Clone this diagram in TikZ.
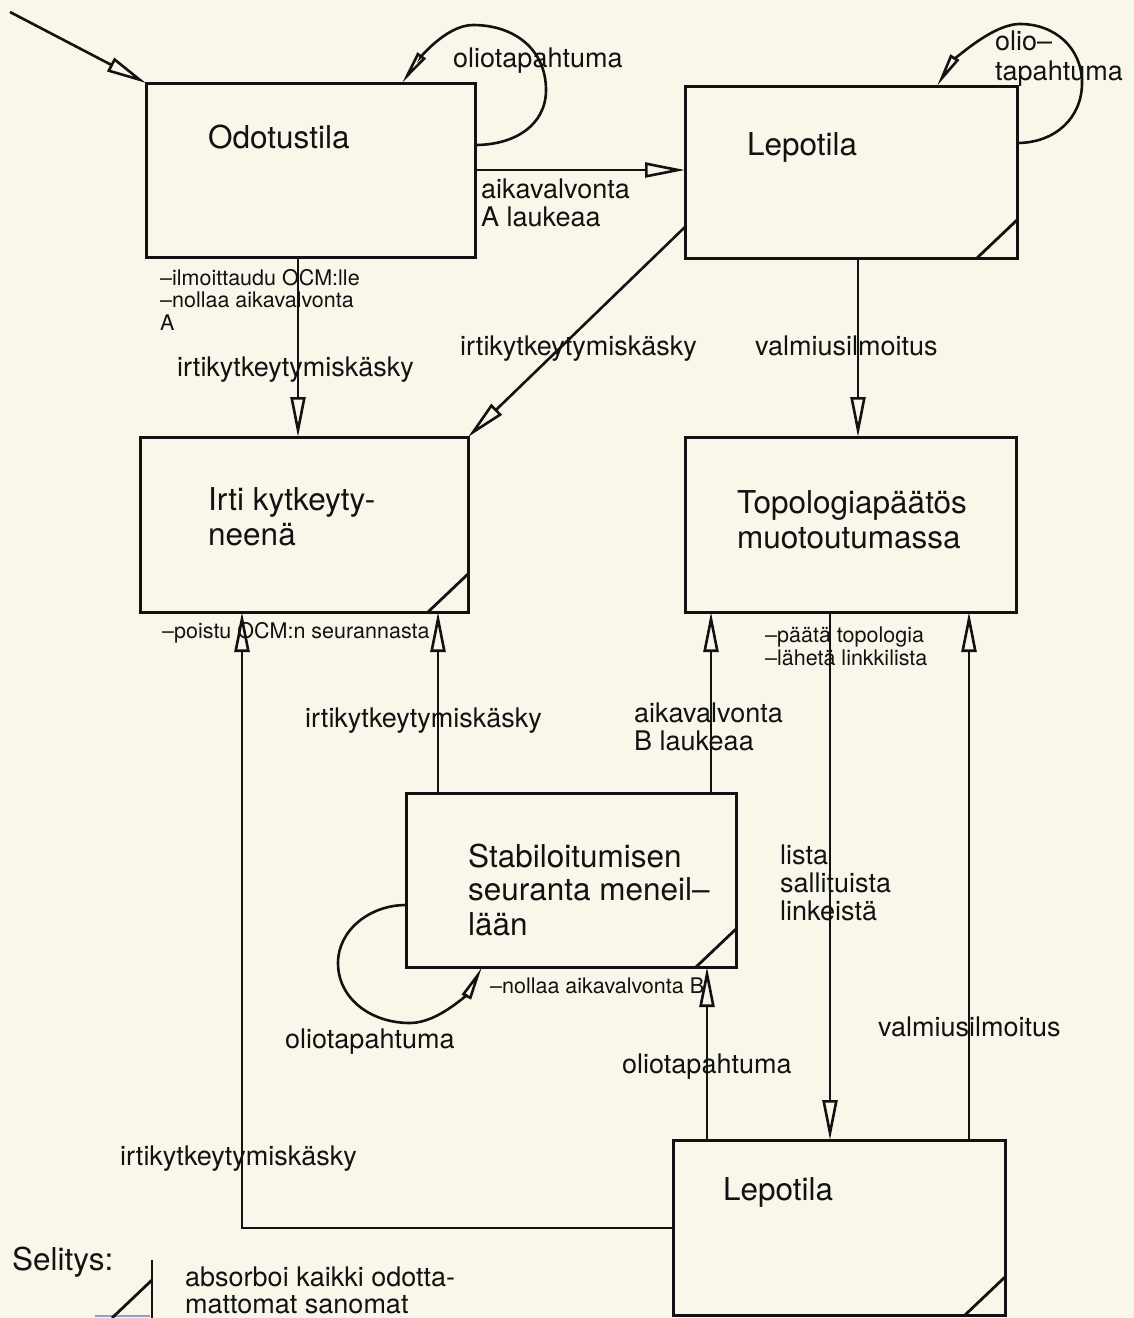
\documentclass[tikz,border=0pt]{standalone}
\usepackage{fontspec}
\setmainfont{TeX Gyre Heros}
\usetikzlibrary{arrows.meta}
\definecolor{paper}{RGB}{249,247,233}
\definecolor{ink}{RGB}{18,18,18}
\definecolor{faintblue}{RGB}{140,162,195}

\begin{document}
\begin{tikzpicture}[x=1pt,y=-1pt,
  statebox/.style={draw=ink, line width=3pt, rectangle, inner sep=0pt, outer sep=0pt, anchor=north west},
  flow/.style={draw=ink, line width=2.6pt, -{Triangle[open, length=40pt, width=15pt]}},
  loopflow/.style={draw=ink, line width=2.6pt, -{Triangle[open, length=34pt, width=10pt]}},
  absorb/.style={draw=ink, line width=2.8pt},
  statetext/.style={anchor=base west, inner sep=0pt, text=ink, font=\fontsize{31.5}{35}\selectfont},
  lbl/.style={anchor=base west, inner sep=0pt, text=ink, font=\fontsize{27}{28}\selectfont},
  note/.style={anchor=base west, inner sep=0pt, text=ink, font=\fontsize{21.5}{22}\selectfont},
]
\fill[paper] (0,0) rectangle (1134,1318);
\useasboundingbox (0,0) rectangle (1134,1318);

% ---- states ----
\node[statebox, minimum width=329pt, minimum height=174pt] (odo)   at (146,83)   {};
\node[statebox, minimum width=332pt, minimum height=172pt] (lep1)  at (685,86)   {};
\node[statebox, minimum width=328pt, minimum height=175pt] (irti)  at (140,437)  {};
\node[statebox, minimum width=331pt, minimum height=175pt] (topo)  at (685,437)  {};
\node[statebox, minimum width=330pt, minimum height=174pt] (stab)  at (406,793)  {};
\node[statebox, minimum width=332pt, minimum height=175pt] (lep2)  at (673,1140) {};

% corner marks: state absorbs all unexpected messages
\foreach \s in {lep1,irti,stab,lep2}
  \draw[absorb] ([xshift=-40pt]\s.south east) -- ([yshift=38pt]\s.south east);

% ---- state names ----
\node[statetext] (t_odo)   at (208,148)  {Odotustila};
\node[statetext] (t_lep1)  at (747,155)  {Lepotila};
\node[statetext] (t_irti1) at (208,510)  {Irti kytkeyty-};
\node[statetext] (t_irti2) at (208,545)  {neenä};
\node[statetext] (t_topo1) at (737,513)  {Topologiapäätös};
\node[statetext] (t_topo2) at (737,548)  {muotoutumassa};
\node[statetext] (t_stab1) at (468,867)  {Stabiloitumisen};
\node[statetext] (t_stab2) at (468,900)  {seuranta meneil–};
\node[statetext] (t_stab3) at (468,935)  {lään};
\node[statetext] (t_lep2)  at (723,1200) {Lepotila};

% ---- attachment columns and rows ----
\coordinate (entry) at (10,12);
\coordinate (yA) at (0,170);
\coordinate (yB) at (0,227);
\coordinate (yC) at (0,1228);
\coordinate (xA) at (298,0);
\coordinate (xB) at (858,0);
\coordinate (xC) at (438,0);
\coordinate (xD) at (711,0);
\coordinate (xE) at (830,0);
\coordinate (xF) at (969,0);
\coordinate (xG) at (707,0);
\coordinate (xH) at (242,0);
\coordinate (yL1) at (0,145);
\coordinate (xL1) at (402,0);
\coordinate (yL2) at (0,143);
\coordinate (xL2) at (937,0);
\coordinate (yL3) at (0,905);
\coordinate (xL3) at (482,0);

% ---- transitions ----
\draw[flow] (entry) -- (odo.north west);
\draw[flow] (odo.east |- yA) -- (lep1.west |- yA);
\draw[flow] (lep1.west |- yB) -- (irti.north east);
\draw[flow] (odo.south -| xA) -- (irti.north -| xA);
\draw[flow] (lep1.south -| xB) -- (topo.north -| xB);
\draw[flow] (stab.north -| xC) -- (irti.south -| xC);
\draw[flow] (stab.north -| xD) -- (topo.south -| xD);
\draw[flow] (topo.south -| xE) -- (lep2.north -| xE);
\draw[flow] (lep2.north -| xF) -- (topo.south -| xF);
\draw[flow] (lep2.north -| xG) -- (stab.south -| xG);
\draw[flow] (lep2.west |- yC) -| (irti.south -| xH);

% self transitions
\draw[loopflow] (odo.east |- yL1) .. controls (515,145) and (546,125) .. (546,90)
  .. controls (546,50) and (515,25) .. (473,25)
  .. controls (445,25) and (417,62) .. (odo.north -| xL1);
\draw[loopflow] (lep1.east |- yL2) .. controls (1055,143) and (1082,118) .. (1082,83)
  .. controls (1082,48) and (1055,24) .. (1020,24)
  .. controls (990,24) and (950,65) .. (lep1.north -| xL2);
\draw[loopflow] (stab.west |- yL3) .. controls (370,905) and (338,930) .. (338,963)
  .. controls (338,998) and (370,1023) .. (410,1023)
  .. controls (440,1023) and (470,990) .. (stab.south -| xL3);

% ---- transition labels ----
\node[lbl] (l_loop1)  at (453,67)  {oliotapahtuma};
\node[lbl] (l_loop2a) at (995,50)  {olio–};
\node[lbl] (l_loop2b) at (995,80)  {tapahtuma};
\node[lbl] (l_tA1)    at (481,198) {aikavalvonta};
\node[lbl] (l_tA2)    at (481,226) {A laukeaa};
\node[note] (n_odo1)  at (160,285) {–ilmoittaudu OCM:lle};
\node[note] (n_odo2)  at (160,307) {–nollaa aikavalvonta};
\node[note] (n_odo3)  at (160,330) {A};
\node[lbl] (l_disc1)  at (177,376) {irtikytkeytymiskäsky};
\node[lbl] (l_disc2)  at (460,355) {irtikytkeytymiskäsky};
\node[lbl] (l_ready1) at (755,355) {valmiusilmoitus};
\node[note] (n_irti)  at (162,638) {–poistu OCM:n seurannasta};
\node[note] (n_topo1) at (765,642) {–päätä topologia};
\node[note] (n_topo2) at (765,665) {–lähetä linkkilista};
\node[lbl] (l_disc3)  at (305,727) {irtikytkeytymiskäsky};
\node[lbl] (l_tB1)    at (634,722) {aikavalvonta};
\node[lbl] (l_tB2)    at (634,750) {B laukeaa};
\node[lbl] (l_list1)  at (780,864) {lista};
\node[lbl] (l_list2)  at (780,892) {sallituista};
\node[lbl] (l_list3)  at (780,920) {linkeistä};
\node[note] (n_stab)  at (490,993) {–nollaa aikavalvonta B};
\node[lbl] (l_loop3)  at (285,1048) {oliotapahtuma};
\node[lbl] (l_ready2) at (878,1036) {valmiusilmoitus};
\node[lbl] (l_event)  at (622,1073) {oliotapahtuma};
\node[lbl] (l_disc4)  at (120,1165) {irtikytkeytymiskäsky};

% ---- legend ----
\node[statetext] (legend) at (12,1270) {Selitys:};
\draw[faintblue, line width=2pt] (95,1316) -- (150,1316);
\draw[absorb] (152,1260) -- (152,1318);
\draw[absorb] (112,1318) -- (152,1280);
\node[lbl] (leg1) at (185,1286) {absorboi kaikki odotta-};
\node[lbl] (leg2) at (185,1313) {mattomat sanomat};
\end{tikzpicture}
\end{document}
